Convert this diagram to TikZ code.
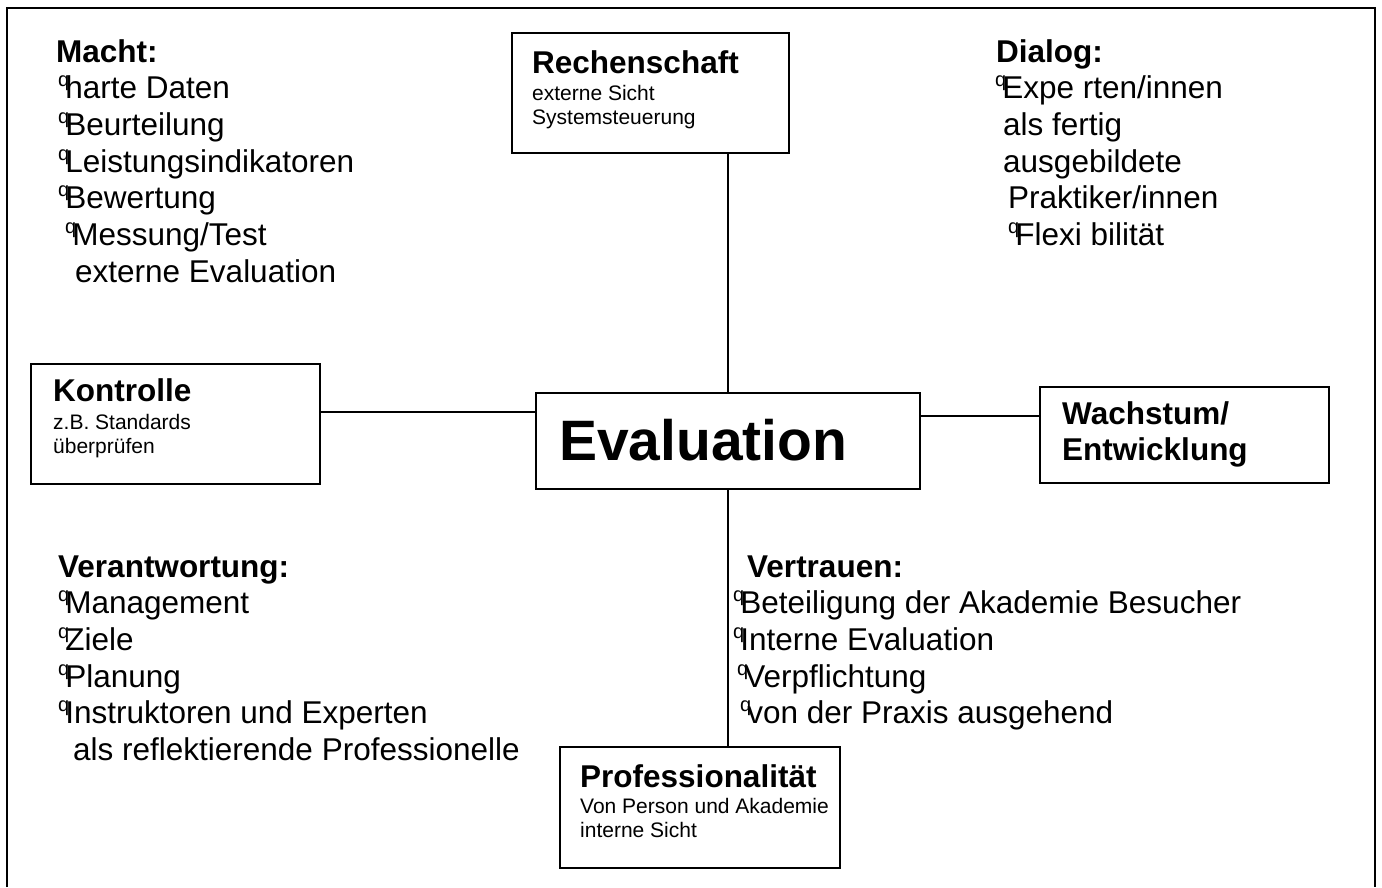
\documentclass[tikz,border=0pt]{standalone}
\usepackage{fontspec}
\setmainfont{Liberation Sans}
\newcommand\bu{\raisebox{0.38em}{\fontsize{20}{20}\selectfont q}\kern-4pt}
\newcommand\rows[1]{\begin{tabular}[t]{@{}l@{}}#1\end{tabular}}
\tikzset{
  box/.style={draw, line width=1.8pt, anchor=north west, inner sep=0pt},
  conn/.style={line width=1.8pt},
  lst/.style={anchor=base west, inner sep=0pt, font=\fontsize{31.5}{36.7}\selectfont},
  ttl/.style={anchor=base west, inner sep=0pt, font=\fontsize{31.5}{36.5}\selectfont\bfseries},
  sub/.style={anchor=base west, inner sep=0pt, font=\fontsize{21}{24}\selectfont},
}
\begin{document}
\begin{tikzpicture}[x=1pt,y=-1pt]
\useasboundingbox (0,0) rectangle (1382,887);
\draw[conn] (7,887) -- (7,8) -- (1375,8) -- (1375,887);

% boxes
\node[box, minimum width=277pt, minimum height=120pt] (rech) at (511,32) {};
\node[box, minimum width=289pt, minimum height=120pt] (kon) at (30,363) {};
\node[box, minimum width=384pt, minimum height=96pt] (eval) at (535,392) {};
\node[box, minimum width=289pt, minimum height=96pt] (wach) at (1039,386) {};
\node[box, minimum width=280pt, minimum height=121pt] (prof) at (559,746) {};

% box texts
\node[ttl] (rechT) at (532,73) {Rechenschaft};
\node[sub] (rechS) at (532,100) {\rows{externe Sicht\\Systemsteuerung}};
\node[ttl] (konT) at (53,401) {Kontrolle};
\node[sub] (konS) at (53,429) {\rows{z.B. Standards\\überprüfen}};
\node[anchor=base west, inner sep=0pt, font=\fontsize{57}{60}\selectfont\bfseries] (evalT) at (559,460) {Evaluation};
\node[ttl] (wachT) at (1062,424) {\rows{Wachstum/\\Entwicklung}};
\node[ttl] (profT) at (580,787) {Professionalität};
\node[sub] (profS) at (580,813) {\rows{Von Person und Akademie\\interne Sicht}};

% connectors
\draw[conn] (eval.north) -- (eval.north |- rech.south);
\draw[conn] (eval.south) -- (eval.south |- prof.north);
\path (kon.north east) ++(0,49) coordinate (kl);
\draw[conn] (kl) -- (kl -| eval.west);
\path (wach.north west) ++(0,30) coordinate (wl);
\draw[conn] (wl -| eval.east) -- (wl);

% lists
\node[lst] (macht) at (56,62) {\rows{\textbf{Macht:}\\
\hspace*{2pt}\bu harte Daten\\
\hspace*{2pt}\bu Beurteilung\\
\hspace*{2pt}\bu Leistungsindikatoren\\
\hspace*{2pt}\bu Bewertung\\
\hspace*{9pt}\bu Messung/Test\\
\hspace*{19pt}externe Evaluation}};

\node[lst] (dialog) at (996,62) {\rows{\textbf{Dialog:}\\
\hspace*{-1pt}\bu Expe rten/innen\\
\hspace*{7pt}als fertig\\
\hspace*{7pt}ausgebildete\\
\hspace*{12pt}Praktiker/innen\\
\hspace*{12pt}\bu Flexi bilität}};

\node[lst] (verant) at (58,577) {\rows{\textbf{Verantwortung:}\\
\bu Management\\
\bu Ziele\\
\bu Planung\\
\bu Instruktoren und Experten\\
\hspace*{15pt}als reflektierende Professionelle}};

\node[lst] (vertr) at (733,577) {\rows{\hspace*{14pt}\textbf{Vertrauen:}\\
\bu Beteiligung der Akademie Besucher\\
\bu Interne Evaluation\\
\hspace*{4pt}\bu Verpflichtung\\
\hspace*{7pt}\bu von der Praxis ausgehend}};
\end{tikzpicture}
\end{document}
